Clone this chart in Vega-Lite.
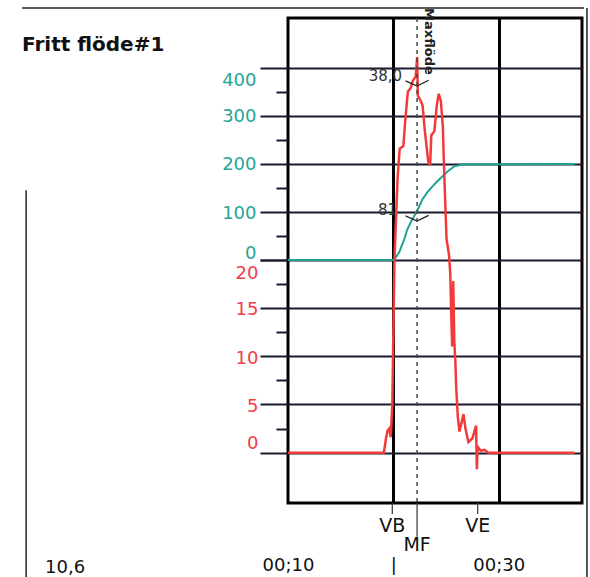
{
  "$schema": "https://vega.github.io/schema/vega-lite/v6.json",
  "width": 294,
  "height": 485,
  "autosize": {"type": "none"},
  "padding": {"left": 288, "top": 18, "right": 8, "bottom": 74},
  "background": "#ffffff",
  "config": {"view": {"stroke": "#000000", "strokeWidth": 3}, "font": "DejaVu Sans"},
  "datasets": {
    "flow": [
      {"t": 10, "q": 0}, {"t": 19.1, "q": 0}, {"t": 19.3, "q": 1.5}, {"t": 19.45, "q": 2.3}, {"t": 19.6, "q": 2.5},
      {"t": 19.75, "q": 1.6}, {"t": 19.9, "q": 5}, {"t": 20.1, "q": 20}, {"t": 20.4, "q": 28.5}, {"t": 20.6, "q": 31.5},
      {"t": 20.95, "q": 31.8}, {"t": 21.12, "q": 34.3}, {"t": 21.37, "q": 37.4}, {"t": 21.65, "q": 37.8}, {"t": 21.83, "q": 38.5},
      {"t": 22.12, "q": 39.0}, {"t": 22.26, "q": 41.0}, {"t": 22.32, "q": 37.0}, {"t": 22.58, "q": 36.5}, {"t": 22.77, "q": 36.0},
      {"t": 22.99, "q": 33.3}, {"t": 23.31, "q": 30.2}, {"t": 23.49, "q": 29.8}, {"t": 23.6, "q": 32.9}, {"t": 23.89, "q": 33.3},
      {"t": 24.12, "q": 36.0}, {"t": 24.3, "q": 37.2}, {"t": 24.5, "q": 36.5}, {"t": 24.69, "q": 33.9}, {"t": 24.8, "q": 29.8},
      {"t": 25.04, "q": 22.2}, {"t": 25.29, "q": 20.4}, {"t": 25.4, "q": 18.5}, {"t": 25.5, "q": 14}, {"t": 25.58, "q": 11},
      {"t": 25.68, "q": 17.8}, {"t": 25.78, "q": 11.5}, {"t": 25.88, "q": 9.5}, {"t": 25.97, "q": 6.6}, {"t": 26.11, "q": 3.8},
      {"t": 26.27, "q": 2.2}, {"t": 26.66, "q": 4.0}, {"t": 26.84, "q": 2.5}, {"t": 27.12, "q": 1.1}, {"t": 27.5, "q": 1.5},
      {"t": 27.85, "q": 2.8}, {"t": 27.92, "q": -1.7}, {"t": 28.0, "q": 0.6}, {"t": 28.3, "q": 0.2}, {"t": 28.66, "q": 0.3},
      {"t": 29.0, "q": 0}, {"t": 37.2, "q": 0}
    ],
    "volume": [
      {"t": 10, "v": 0}, {"t": 20.05, "v": 0}, {"t": 20.55, "v": 16}, {"t": 21.03, "v": 43}, {"t": 21.33, "v": 64},
      {"t": 21.7, "v": 81}, {"t": 22.17, "v": 99}, {"t": 22.46, "v": 112}, {"t": 22.75, "v": 126}, {"t": 23.22, "v": 141},
      {"t": 23.69, "v": 153}, {"t": 24.17, "v": 164}, {"t": 24.64, "v": 174}, {"t": 25.11, "v": 184}, {"t": 25.77, "v": 195},
      {"t": 26.52, "v": 199}, {"t": 37.2, "v": 200}
    ],
    "events": [{"event": "VB", "t": 19.9}, {"event": "MF", "t": 22.25}, {"event": "VE", "t": 28.0}],
    "peaks": [
      {"series": "Qura", "t": 22.25, "value": 38.0, "label": "38,0"},
      {"series": "Vura", "t": 22.25, "value": 81, "label": "81"}
    ],
    "blank": [{}]
  },
  "resolve": {"scale": {"y": "independent"}, "axis": {"y": "independent"}},
  "layer": [
    {
      "layer": [
        {
          "data": {"name": "volume"},
          "mark": {"type": "line", "color": "#1ea393", "strokeWidth": 2},
          "encoding": {
            "x": {
              "field": "t", "type": "quantitative", "title": null,
              "scale": {"domain": [10, 37.9], "nice": false, "zero": false},
              "axis": {
                "values": [10, 20, 30], "ticks": false, "domain": false, "title": null,
                "grid": true, "gridColor": "#000000", "gridWidth": 3,
                "gridOpacity": {"condition": {"test": "datum.value == 10", "value": 0}, "value": 1},
                "labelExpr": "datum.value == 20 ? '|' : '00;' + datum.value",
                "labelPadding": 53, "labelBaseline": "top", "labelFontSize": 18, "labelColor": "#111111",
                "labelFont": "DejaVu Sans", "labelFlush": false, "labelOverlap": false
              }
            },
            "y": {
              "field": "v", "type": "quantitative", "title": null,
              "scale": {"domain": [-506, 504], "nice": false, "zero": false},
              "axis": {
                "orient": "left", "title": ["Vura", "ml"], "titleAngle": 0, "titleAlign": "left", "titleBaseline": "top",
                "titleX": -265, "titleY": 121, "titleFontSize": 19, "titleFontWeight": "normal", "titleColor": "#27a595",
                "titleLineHeight": 23, "titleFont": "DejaVu Sans",
                "values": [0, 50, 100, 150, 200, 250, 300, 350, 400],
                "labelExpr": "datum.value % 100 == 0 ? datum.label : ''",
                "labelColor": "#27a595", "labelFontSize": 18, "labelFont": "DejaVu Sans", "labelPadding": 4,
                "labelBaseline": "middle",
                "labelOffset": {"condition": [{"test": "datum.value == 0", "value": -7}, {"test": "datum.value == 400", "value": 13}], "value": 1},
                "labelFlush": false, "labelOverlap": false,
                "tickSize": {"condition": {"test": "datum.value % 100 == 0", "value": 28}, "value": 12},
                "tickColor": "#1b1b2e", "tickWidth": 2,
                "grid": true, "gridColor": "#1b1b2e", "gridWidth": 2,
                "gridOpacity": {"condition": {"test": "datum.value % 100 == 0", "value": 1}, "value": 0},
                "domain": false
              }
            }
          }
        },
        {
          "data": {"name": "peaks"},
          "transform": [{"filter": "datum.series == 'Vura'"}],
          "mark": {"type": "point", "shape": "M-1,-0.45L0,0L1,-0.5", "size": 529, "filled": false, "color": "#222222", "strokeWidth": 1.3, "opacity": 1},
          "encoding": {
            "x": {"field": "t", "type": "quantitative", "title": null, "scale": {"domain": [10, 37.9], "nice": false, "zero": false}},
            "y": {"field": "value", "type": "quantitative", "title": null, "scale": {"domain": [-506, 504], "nice": false, "zero": false}}
          }
        },
        {
          "data": {"name": "peaks"},
          "transform": [{"filter": "datum.series == 'Vura'"}],
          "mark": {"type": "text", "align": "right", "baseline": "middle", "dx": -20, "dy": -11, "fontSize": 15, "color": "#333333", "font": "DejaVu Sans"},
          "encoding": {
            "x": {"field": "t", "type": "quantitative", "title": null, "scale": {"domain": [10, 37.9], "nice": false, "zero": false}},
            "y": {"field": "value", "type": "quantitative", "title": null, "scale": {"domain": [-506, 504], "nice": false, "zero": false}},
            "text": {"field": "label"}
          }
        }
      ]
    },
    {
      "layer": [
        {
          "data": {"name": "flow"},
          "mark": {"type": "line", "color": "#f23a3a", "strokeWidth": 2.5},
          "encoding": {
            "x": {"field": "t", "type": "quantitative", "title": null, "scale": {"domain": [10, 37.9], "nice": false, "zero": false}},
            "y": {
              "field": "q", "type": "quantitative", "title": null,
              "scale": {"domain": [-5.21, 45.05], "nice": false, "zero": false},
              "axis": {
                "orient": "left", "title": ["Qura", "ml/s"], "titleAngle": 0, "titleAlign": "left", "titleBaseline": "top",
                "titleX": -261, "titleY": 313, "titleFontSize": 19, "titleFontWeight": "normal", "titleColor": "#f0404a",
                "titleLineHeight": 23, "titleFont": "DejaVu Sans",
                "values": [0, 2.5, 5, 7.5, 10, 12.5, 15, 17.5, 20],
                "labelExpr": "datum.value % 5 == 0 ? datum.label : ''",
                "labelColor": "#f0404a", "labelFontSize": 18, "labelFont": "DejaVu Sans", "labelPadding": 2,
                "labelBaseline": "middle",
                "labelOffset": {"condition": [{"test": "datum.value == 20", "value": 14}, {"test": "datum.value == 0", "value": -9}], "value": 2},
                "labelFlush": false, "labelOverlap": false,
                "tickSize": {"condition": {"test": "datum.value % 5 == 0", "value": 28}, "value": 12},
                "tickColor": "#1b1b2e", "tickWidth": 2,
                "grid": true, "gridColor": "#1b1b2e", "gridWidth": 2,
                "gridOpacity": {"condition": {"test": "datum.value % 5 == 0 && datum.value < 20", "value": 1}, "value": 0},
                "domain": false
              }
            }
          }
        },
        {
          "data": {"name": "peaks"},
          "transform": [{"filter": "datum.series == 'Qura'"}],
          "mark": {"type": "point", "shape": "M-1,-0.45L0,0L1,-0.5", "size": 529, "filled": false, "color": "#222222", "strokeWidth": 1.3, "opacity": 1},
          "encoding": {
            "x": {"field": "t", "type": "quantitative", "title": null, "scale": {"domain": [10, 37.9], "nice": false, "zero": false}},
            "y": {"field": "value", "type": "quantitative", "title": null, "scale": {"domain": [-5.21, 45.05], "nice": false, "zero": false}}
          }
        },
        {
          "data": {"name": "peaks"},
          "transform": [{"filter": "datum.series == 'Qura'"}],
          "mark": {"type": "text", "align": "right", "baseline": "middle", "dx": -15, "dy": -10, "fontSize": 15, "color": "#333333", "font": "DejaVu Sans"},
          "encoding": {
            "x": {"field": "t", "type": "quantitative", "title": null, "scale": {"domain": [10, 37.9], "nice": false, "zero": false}},
            "y": {"field": "value", "type": "quantitative", "title": null, "scale": {"domain": [-5.21, 45.05], "nice": false, "zero": false}},
            "text": {"field": "label"}
          }
        },
        {
          "data": {"name": "events"},
          "transform": [{"filter": "datum.event == 'MF'"}],
          "mark": {"type": "rule", "color": "#444444", "strokeWidth": 1.5, "strokeDash": [4, 4]},
          "encoding": {
            "x": {"field": "t", "type": "quantitative", "title": null, "scale": {"domain": [10, 37.9], "nice": false, "zero": false}},
            "y": {"datum": 45.05, "type": "quantitative", "title": null, "scale": {"domain": [-5.21, 45.05], "nice": false, "zero": false}},
            "y2": {"datum": -5.21}
          }
        },
        {
          "data": {"name": "events"},
          "transform": [{"filter": "datum.event == 'MF'"}],
          "mark": {"type": "rule", "color": "#444444", "strokeWidth": 1.3},
          "encoding": {
            "x": {"field": "t", "type": "quantitative", "title": null, "scale": {"domain": [10, 37.9], "nice": false, "zero": false}},
            "y": {"datum": -5.21, "type": "quantitative", "title": null, "scale": {"domain": [-5.21, 45.05], "nice": false, "zero": false}},
            "y2": {"datum": -8.7}
          }
        },
        {
          "data": {"name": "events"},
          "transform": [{"filter": "datum.event != 'MF'"}],
          "mark": {"type": "rule", "color": "#444444", "strokeWidth": 1.3},
          "encoding": {
            "x": {"field": "t", "type": "quantitative", "title": null, "scale": {"domain": [10, 37.9], "nice": false, "zero": false}},
            "y": {"datum": -5.21, "type": "quantitative", "title": null, "scale": {"domain": [-5.21, 45.05], "nice": false, "zero": false}},
            "y2": {"datum": -6.35}
          }
        },
        {
          "data": {"name": "events"},
          "transform": [{"filter": "datum.event != 'MF'"}],
          "mark": {"type": "text", "align": "center", "baseline": "middle", "fontSize": 19, "color": "#111111", "font": "DejaVu Sans"},
          "encoding": {
            "x": {"field": "t", "type": "quantitative", "title": null, "scale": {"domain": [10, 37.9], "nice": false, "zero": false}},
            "y": {"datum": -7.6, "type": "quantitative", "title": null, "scale": {"domain": [-5.21, 45.05], "nice": false, "zero": false}},
            "text": {"field": "event"}
          }
        },
        {
          "data": {"name": "events"},
          "transform": [{"filter": "datum.event == 'MF'"}],
          "mark": {"type": "text", "align": "center", "baseline": "middle", "fontSize": 19, "color": "#111111", "font": "DejaVu Sans"},
          "encoding": {
            "x": {"field": "t", "type": "quantitative", "title": null, "scale": {"domain": [10, 37.9], "nice": false, "zero": false}},
            "y": {"datum": -9.56, "type": "quantitative", "title": null, "scale": {"domain": [-5.21, 45.05], "nice": false, "zero": false}},
            "text": {"field": "event"}
          }
        },
        {
          "data": {"name": "events"},
          "transform": [{"filter": "datum.event == 'MF'"}],
          "mark": {"type": "text", "text": "Maxflöde", "angle": 90, "align": "left", "baseline": "middle", "xOffset": 12, "fontSize": 13, "fontWeight": "bold", "color": "#222222", "font": "DejaVu Sans"},
          "encoding": {
            "x": {"field": "t", "type": "quantitative", "title": null, "scale": {"domain": [10, 37.9], "nice": false, "zero": false}},
            "y": {"datum": 46.08, "type": "quantitative", "title": null, "scale": {"domain": [-5.21, 45.05], "nice": false, "zero": false}}
          }
        },
        {
          "data": {"name": "blank"},
          "mark": {"type": "text", "text": "Fritt flöde#1", "align": "left", "baseline": "alphabetic", "fontSize": 20, "fontWeight": "bold", "color": "#111111", "font": "DejaVu Sans"},
          "encoding": {
            "x": {"datum": -15.24, "type": "quantitative", "title": null, "scale": {"domain": [10, 37.9], "nice": false, "zero": false}},
            "y": {"datum": 41.63, "type": "quantitative", "title": null, "scale": {"domain": [-5.21, 45.05], "nice": false, "zero": false}}
          }
        },
        {
          "data": {"name": "blank"},
          "mark": {"type": "text", "text": "10,6", "align": "left", "baseline": "top", "fontSize": 18, "color": "#111111", "font": "DejaVu Sans"},
          "encoding": {
            "x": {"datum": -13.06, "type": "quantitative", "title": null, "scale": {"domain": [10, 37.9], "nice": false, "zero": false}},
            "y": {"datum": -11.0, "type": "quantitative", "title": null, "scale": {"domain": [-5.21, 45.05], "nice": false, "zero": false}}
          }
        },
        {
          "data": {"name": "blank"},
          "mark": {"type": "rule", "color": "#222222", "strokeWidth": 1.5},
          "encoding": {
            "x": {"datum": -15.24, "type": "quantitative", "title": null, "scale": {"domain": [10, 37.9], "nice": false, "zero": false}},
            "x2": {"datum": 38.1},
            "y": {"datum": 46.08, "type": "quantitative", "title": null, "scale": {"domain": [-5.21, 45.05], "nice": false, "zero": false}}
          }
        },
        {
          "data": {"name": "blank"},
          "mark": {"type": "rule", "color": "#222222", "strokeWidth": 1.5},
          "encoding": {
            "x": {"datum": -14.85, "type": "quantitative", "title": null, "scale": {"domain": [10, 37.9], "nice": false, "zero": false}},
            "y": {"datum": 27.2, "type": "quantitative", "title": null, "scale": {"domain": [-5.21, 45.05], "nice": false, "zero": false}},
            "y2": {"datum": -12.9}
          }
        },
        {
          "data": {"name": "blank"},
          "mark": {"type": "rule", "color": "#222222", "strokeWidth": 1.5},
          "encoding": {
            "x": {"datum": 38.37, "type": "quantitative", "title": null, "scale": {"domain": [10, 37.9], "nice": false, "zero": false}},
            "y": {"datum": 46.08, "type": "quantitative", "title": null, "scale": {"domain": [-5.21, 45.05], "nice": false, "zero": false}},
            "y2": {"datum": -12.9}
          }
        }
      ]
    }
  ]
}
